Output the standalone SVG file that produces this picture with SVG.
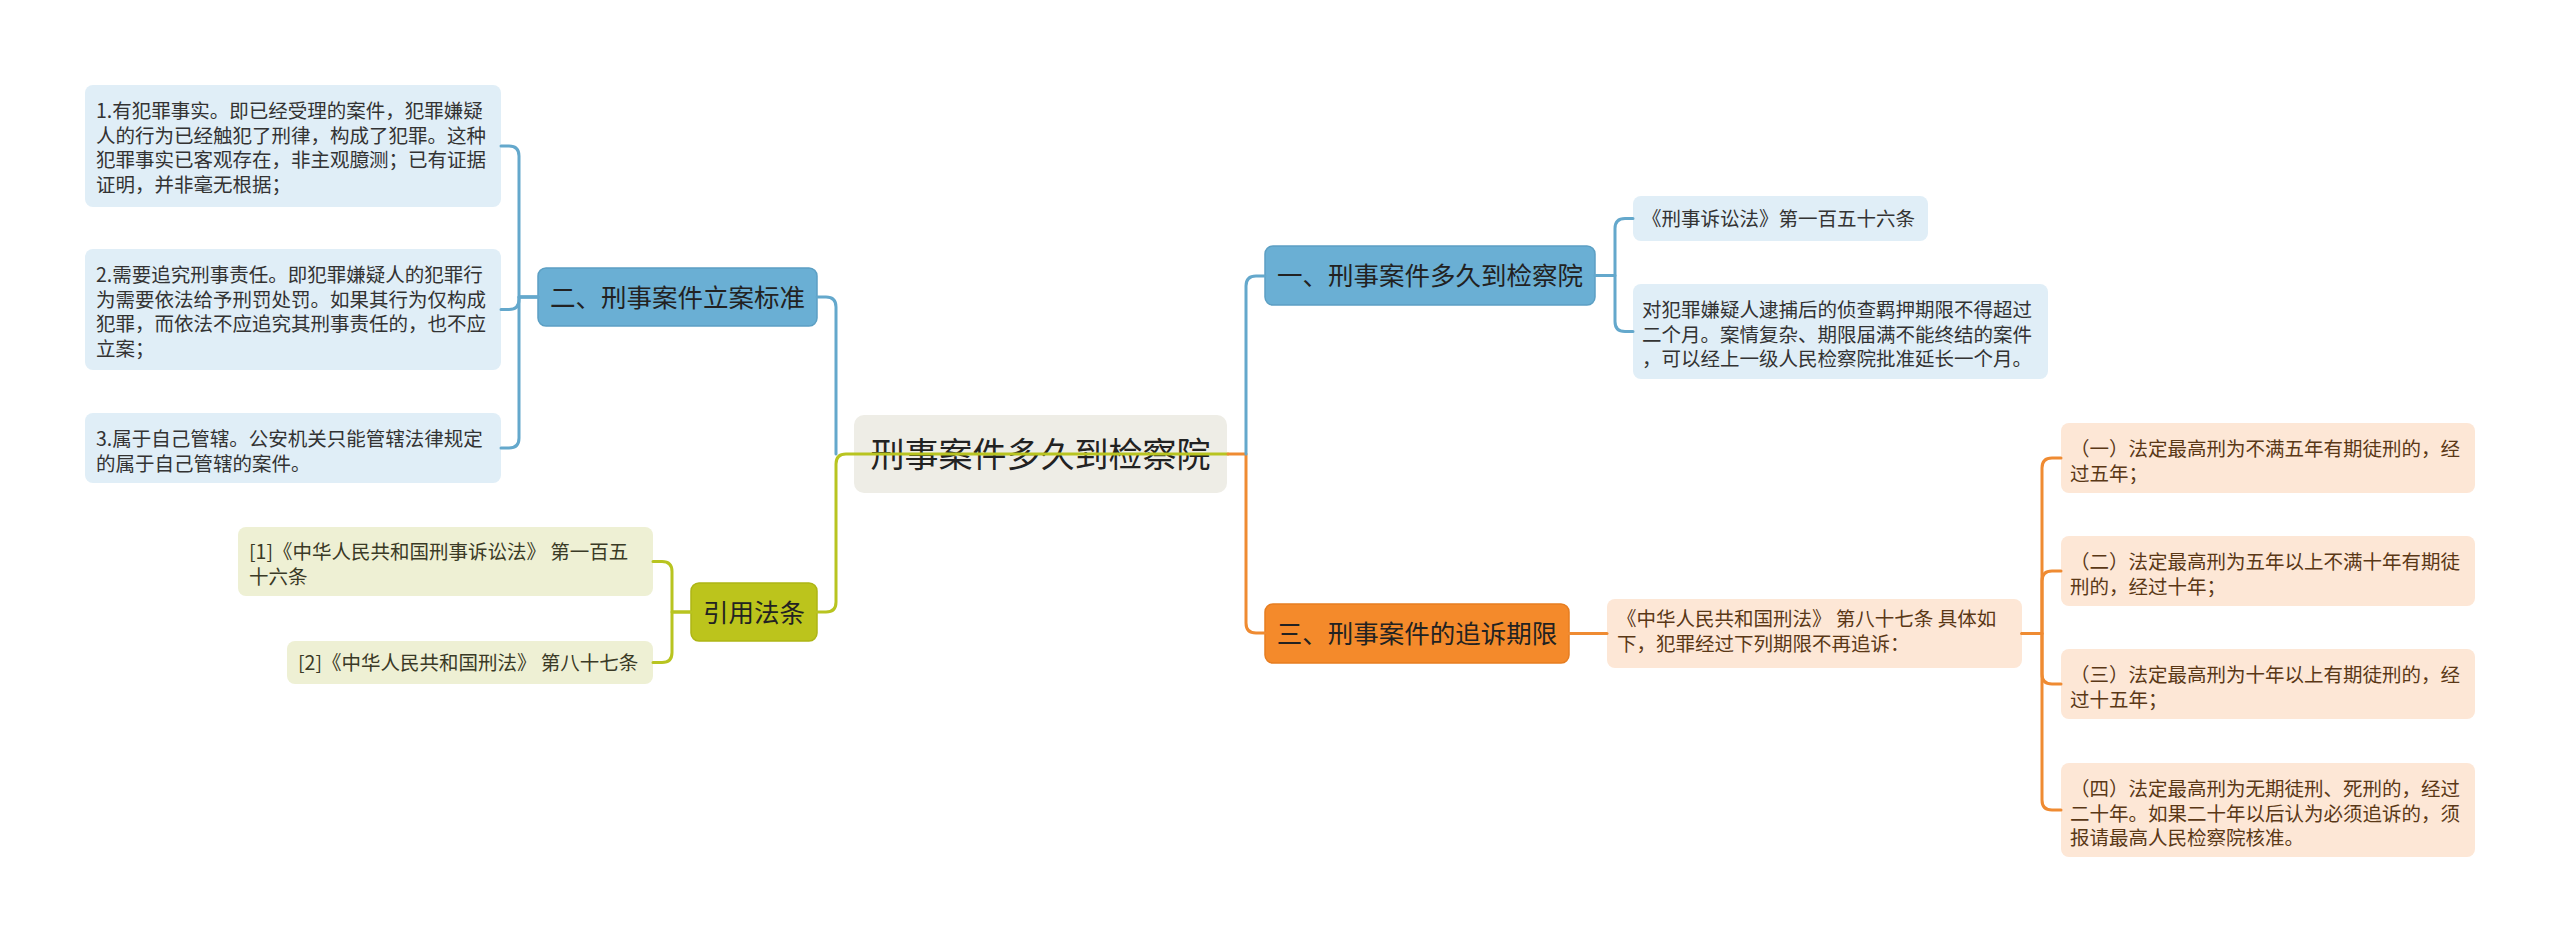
<svg xmlns="http://www.w3.org/2000/svg" width="2560" height="943" viewBox="0 0 2560 943">
<style>
text{font-family:"Noto Sans CJK SC","Microsoft YaHei",sans-serif;}
.root{fill:#eeede6;}
.rootT{font-size:34px;fill:#222;text-anchor:middle;}
.mB{fill:#6aafd4;stroke:#5c9fc3;stroke-width:1.5;}
.mO{fill:#f48a2b;stroke:#e67d20;stroke-width:1.5;}
.mG{fill:#bcc41c;stroke:#adb515;stroke-width:1.5;}
.mT{font-size:25.5px;fill:#222;text-anchor:middle;}
.lB{fill:#e0eef7;}
.lO{fill:#fde7d6;}
.lG{fill:#eef0d4;}
.tB{font-size:19.5px;fill:#333;}
.tO{font-size:19.5px;fill:#5a3816;}
.tG{font-size:19.5px;fill:#3a3a26;}
.c{fill:none;stroke-width:3;stroke-linecap:round;stroke-linejoin:round;}
.cB{stroke:#64a8cc;}
.cO{stroke:#ef8b32;}
.cG{stroke:#b8c420;}
</style>
<rect width="2560" height="943" fill="#ffffff"/>
<g id="root">
<rect class="root" x="854" y="415" width="373" height="78" rx="10"/>
<text class="rootT" x="1040.5" y="467">刑事案件多久到检察院</text>
</g>
<g id="n-er">
<rect class="mB" x="538" y="268" width="279" height="58" rx="8"/>
<text class="mT" x="677.5" y="306.5">二、刑事案件立案标准</text>
</g>
<g id="n-yinyong">
<rect class="mG" x="691" y="583" width="126" height="58" rx="8"/>
<text class="mT" x="754" y="621.5">引用法条</text>
</g>
<g id="n-yi">
<rect class="mB" x="1265" y="246" width="330" height="59" rx="8"/>
<text class="mT" x="1430" y="285">一、刑事案件多久到检察院</text>
</g>
<g id="n-san">
<rect class="mO" x="1265" y="604" width="304" height="59" rx="8"/>
<text class="mT" x="1417" y="643">三、刑事案件的追诉期限</text>
</g>
<g id="l1">
<rect class="lB" x="85" y="85" width="416" height="122" rx="8"/>
<text class="tB" x="96" y="118">1.有犯罪事实。即已经受理的案件，犯罪嫌疑<tspan x="96" dy="24.7">人的行为已经触犯了刑律，构成了犯罪。这种</tspan><tspan x="96" dy="24.7">犯罪事实已客观存在，非主观臆测；已有证据</tspan><tspan x="96" dy="24.7">证明，并非毫无根据；</tspan></text>
</g>
<g id="l2">
<rect class="lB" x="85" y="249" width="416" height="121" rx="8"/>
<text class="tB" x="96" y="282">2.需要追究刑事责任。即犯罪嫌疑人的犯罪行<tspan x="96" dy="24.7">为需要依法给予刑罚处罚。如果其行为仅构成</tspan><tspan x="96" dy="24.7">犯罪，而依法不应追究其刑事责任的，也不应</tspan><tspan x="96" dy="24.7">立案；</tspan></text>
</g>
<g id="l3">
<rect class="lB" x="85" y="413" width="416" height="70" rx="8"/>
<text class="tB" x="96" y="446">3.属于自己管辖。公安机关只能管辖法律规定<tspan x="96" dy="24.7">的属于自己管辖的案件。</tspan></text>
</g>
<g id="g1">
<rect class="lG" x="238" y="527" width="415" height="69" rx="8"/>
<text class="tG" x="249" y="559">[1]《中华人民共和国刑事诉讼法》 第一百五<tspan x="249" dy="24.7">十六条</tspan></text>
</g>
<g id="g2">
<rect class="lG" x="287" y="641" width="366" height="43" rx="8"/>
<text class="tG" x="298" y="669.5">[2]《中华人民共和国刑法》 第八十七条</text>
</g>
<g id="r1">
<rect class="lB" x="1633" y="196" width="295" height="45" rx="8"/>
<text class="tB" x="1642" y="226">《刑事诉讼法》第一百五十六条</text>
</g>
<g id="r2">
<rect class="lB" x="1633" y="284" width="415" height="95" rx="8"/>
<text class="tB" x="1642" y="317">对犯罪嫌疑人逮捕后的侦查羁押期限不得超过<tspan x="1642" dy="24.7">二个月。案情复杂、期限届满不能终结的案件</tspan><tspan x="1642" dy="24.7">，可以经上一级人民检察院批准延长一个月。</tspan></text>
</g>
<g id="o0">
<rect class="lO" x="1607" y="599" width="415" height="69" rx="8"/>
<text class="tO" x="1617" y="626">《中华人民共和国刑法》 第八十七条 具体如<tspan x="1617" dy="24.7">下，犯罪经过下列期限不再追诉：</tspan></text>
</g>
<g id="o1">
<rect class="lO" x="2061" y="423" width="414" height="70" rx="8"/>
<text class="tO" x="2070" y="456">（一）法定最高刑为不满五年有期徒刑的，经<tspan x="2070" dy="24.7">过五年；</tspan></text>
</g>
<g id="o2">
<rect class="lO" x="2061" y="536" width="414" height="70" rx="8"/>
<text class="tO" x="2070" y="569">（二）法定最高刑为五年以上不满十年有期徒<tspan x="2070" dy="24.7">刑的，经过十年；</tspan></text>
</g>
<g id="o3">
<rect class="lO" x="2061" y="649" width="414" height="70" rx="8"/>
<text class="tO" x="2070" y="682">（三）法定最高刑为十年以上有期徒刑的，经<tspan x="2070" dy="24.7">过十五年；</tspan></text>
</g>
<g id="o4">
<rect class="lO" x="2061" y="763" width="414" height="94" rx="8"/>
<text class="tO" x="2070" y="796">（四）法定最高刑为无期徒刑、死刑的，经过<tspan x="2070" dy="24.7">二十年。如果二十年以后认为必须追诉的，须</tspan><tspan x="2070" dy="24.7">报请最高人民检察院核准。</tspan></text>
</g>
<g id="connectors">
<path class="c cB" d="M836 454 V307 Q836 297 826 297 H817"/>
<path class="c cG" d="M1228 454 H846 Q836 454 836 464 V602 Q836 612 826 612 H817"/>
<path class="c cO" d="M1228 454 H1246 V623 Q1246 633 1256 633 H1265"/>
<path class="c cB" d="M1246 454 V286 Q1246 276 1256 276 H1265"/>
<path class="c cB" d="M538 297 H519 V156 Q519 146 509 146 H501"/>
<path class="c cB" d="M538 297 H519 V299.5 Q519 309.5 509 309.5 H501"/>
<path class="c cB" d="M538 297 H519 V438 Q519 448 509 448 H501"/>
<path class="c cG" d="M691 612 H672 V571.5 Q672 561.5 662 561.5 H653"/>
<path class="c cG" d="M691 612 H672 V652.5 Q672 662.5 662 662.5 H653"/>
<path class="c cB" d="M1595 275.5 H1615 V228.5 Q1615 218.5 1625 218.5 H1633"/>
<path class="c cB" d="M1595 275.5 H1615 V321.5 Q1615 331.5 1625 331.5 H1633"/>
<path class="c cO" d="M1569 633.5 H1607"/>
<path class="c cO" d="M2022 633.5 H2042 V468 Q2042 458 2052 458 H2061"/>
<path class="c cO" d="M2022 633.5 H2042 V581 Q2042 571 2052 571 H2061"/>
<path class="c cO" d="M2022 633.5 H2042 V674 Q2042 684 2052 684 H2061"/>
<path class="c cO" d="M2022 633.5 H2042 V800 Q2042 810 2052 810 H2061"/>
</g>
</svg>
